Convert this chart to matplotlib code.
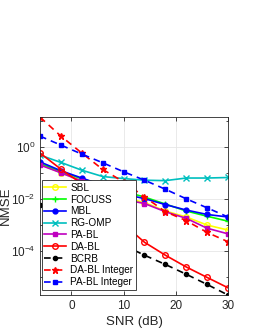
import matplotlib
matplotlib.use("Agg")
import matplotlib.pyplot as plt
from matplotlib.ticker import LogLocator, FixedLocator, NullFormatter, LogFormatterMathtext
import numpy as np

plt.rcParams['font.family'] = ['Liberation Sans', 'DejaVu Sans']

snr = [-6, -2, 2, 6, 10, 14, 18, 22, 26, 30]

sbl = [0.214, 0.10, 0.050, 0.0234, 0.0112, 0.0072, 0.0034, 0.0020, 0.00098, 0.00063]
focuss = [0.229, 0.112, 0.059, 0.034, 0.0195, 0.0117, 0.0063, 0.0034, 0.00214, 0.00138]
mbl = [0.263, 0.12, 0.063, 0.033, 0.0151, 0.0102, 0.0060, 0.0037, 0.0025, 0.0020]
rg_omp = [0.48, 0.25, 0.126, 0.072, 0.060, 0.052, 0.050, 0.063, 0.063, 0.066]
pa_bl = [0.20, 0.10, 0.048, 0.021, 0.0095, 0.0066, 0.0032, 0.00178, 0.00074, 0.00045]
da_bl = [0.575, 0.138, 0.038, 0.0063, 0.00107, 0.000214, 6.8e-5, 2.4e-5, 9.5e-6, 3.8e-6]
bcrb = [0.0058, 0.0024, 0.0010, 0.00041, 0.000166, 6.8e-5, 3.0e-5, 1.26e-5, 5.1e-6, 2.0e-6]
da_bl_int = [13.8, 2.57, 0.575, 0.135, 0.0447, 0.012, 0.0032, 0.00145, 0.00051, 0.000224]
pa_bl_int = [2.57, 1.16, 0.525, 0.243, 0.11, 0.052, 0.0234, 0.010, 0.0045, 0.0020]

labels = ['SBL', 'FOCUSS', 'MBL', 'RG-OMP', 'PA-BL', 'DA-BL', 'BCRB',
          'DA-BL Integer', 'PA-BL Integer']

fig = plt.figure(figsize=(2.55, 3.3), dpi=100)
ax = fig.add_axes([0.157, 0.106, 0.737, 0.539])

lw = 1.2
ms = 4
ax.plot(snr, sbl, '-o', color=(1, 1, 0), lw=lw, ms=ms, mfc='none', label=labels[0])
ax.plot(snr, focuss, '-+', color=(0, 1, 0), lw=lw, ms=ms + 1, label=labels[1])
ax.plot(snr, mbl, '-o', color='b', lw=lw, ms=3.5, label=labels[2])
ax.plot(snr, rg_omp, '-x', color='c', lw=lw, ms=ms, label=labels[3])
ax.plot(snr, pa_bl, '-s', color='m', lw=lw, ms=3.5, label=labels[4])
ax.plot(snr, da_bl, '-o', color='r', lw=lw, ms=ms, mfc='none', label=labels[5])
ax.plot(snr, bcrb, '--o', color='k', lw=lw, ms=3, dashes=(4, 3), label=labels[6])
ax.plot(snr, da_bl_int, '--*', color='r', lw=lw, ms=ms + 1, dashes=(4, 3), label=labels[7])
ax.plot(snr, pa_bl_int, '--s', color='b', lw=lw, ms=3.5, dashes=(4, 3), label=labels[8])

ax.set_yscale('log')
ax.set_xlim(-6, 30)
ax.set_ylim(2.0e-6, 13.8)
ax.set_xticks([0, 10, 20, 30])
ax.yaxis.set_major_locator(FixedLocator([1e-4, 1e-2, 1e0]))
ax.yaxis.set_major_formatter(LogFormatterMathtext())
ax.yaxis.set_minor_locator(LogLocator(base=10, subs=(1.0,), numticks=20))
ax.yaxis.set_minor_formatter(NullFormatter())
ax.grid(True, which='major', color='#e6e6e6', lw=0.6)
ax.set_axisbelow(True)

ax.tick_params(direction='in', top=True, right=True, labelsize=8.5,
               colors='#262626', length=3, width=0.6)
ax.tick_params(which='minor', direction='in', right=True, length=1.8, width=0.5)
for s in ax.spines.values():
    s.set_color('#262626')
    s.set_linewidth(0.6)

ax.set_xlabel('SNR (dB)', fontsize=9.5, color='#262626', labelpad=3)
ax.set_ylabel('NMSE', fontsize=9.5, color='#262626')
ax.yaxis.set_label_coords(-0.15, 0.5)

leg = ax.legend(loc='lower left', bbox_to_anchor=(0.01, 0.03), fontsize=7.2,
                frameon=True, fancybox=False, framealpha=1, edgecolor='#262626',
                handlelength=2.2, handletextpad=0.4, labelspacing=0.18,
                borderpad=0.25, borderaxespad=0)
leg.get_frame().set_linewidth(0.6)

fig.savefig('out.png', dpi=100)
